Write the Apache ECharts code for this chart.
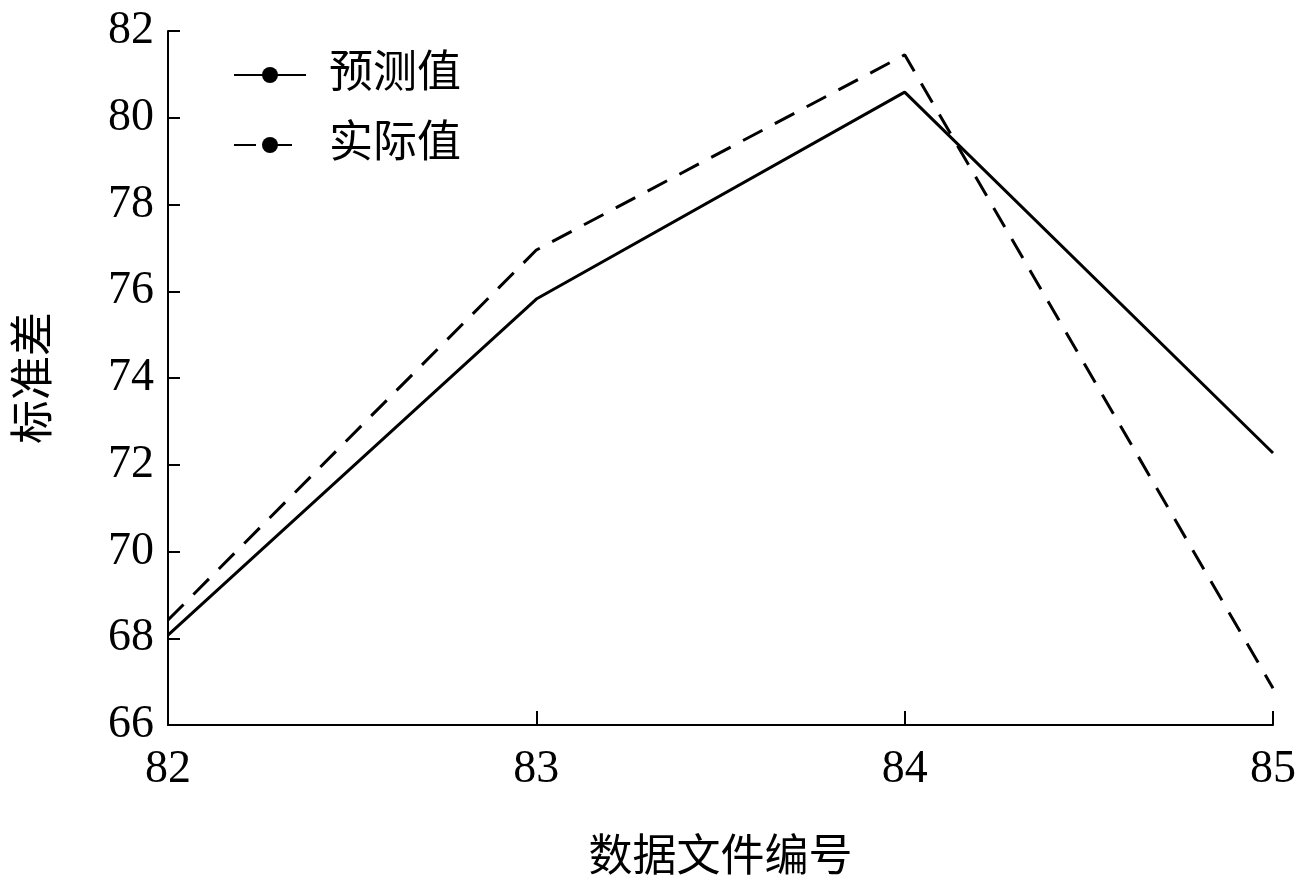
<!DOCTYPE html>
<html>
<head>
<meta charset="utf-8">
<script src="https://cdn.jsdelivr.net/npm/echarts@6/dist/echarts.min.js"></script>
<style>html,body{margin:0;padding:0;background:#fff}</style>
</head>
<body>
<div id="main" style="width:1304px;height:887px"></div>
<script>
// 数据
const fileIds = [82, 83, 84, 85];
const predicted = [68.07, 75.82, 80.59, 72.27];
const actual = [68.42, 76.95, 81.45, 66.85];
const yTicks = [66, 68, 70, 72, 74, 76, 78, 80, 82];

const font = '"Liberation Serif", "Noto Sans CJK SC", serif';
const chart = echarts.init(document.getElementById('main'));
const option = {
    animation: false,
    backgroundColor: '#fff',
    textStyle: { fontFamily: font, color: '#000' },
    grid: { left: 168, right: 31, top: 31, bottom: 162 },
    legend: {
        orient: 'vertical', left: 228, top: 48, itemWidth: 72, itemHeight: 20, itemGap: 26,
        textStyle: { fontSize: 44, fontFamily: font, color: '#000', padding: [0, 0, 0, 18] },
        data: ['预测值', '实际值']
    },
    xAxis: {
        type: 'value', min: fileIds[0], max: fileIds[fileIds.length - 1], interval: 1,
        name: '数据文件编号', nameLocation: 'middle', nameGap: 112,
        nameTextStyle: { fontSize: 44, fontFamily: font, color: '#000' },
        axisLine: { lineStyle: { color: '#000', width: 2 } },
        axisTick: { inside: true, length: 14, lineStyle: { color: '#000', width: 2 } },
        axisLabel: { fontSize: 46, color: '#000', margin: 22, fontFamily: font },
        splitLine: { show: false }
    },
    yAxis: {
        type: 'value', min: yTicks[0], max: yTicks[yTicks.length - 1], interval: 2,
        name: '标准差', nameLocation: 'middle', nameGap: 110,
        nameTextStyle: { fontSize: 44, fontFamily: font, color: '#000' },
        axisLine: { show: true, lineStyle: { color: '#000', width: 2 } },
        axisTick: { show: true, inside: true, length: 12, lineStyle: { color: '#000', width: 2 } },
        axisLabel: { fontSize: 46, color: '#000', margin: 14, fontFamily: font },
        splitLine: { show: false }
    },
    series: [
        {
            name: '预测值', type: 'line', symbol: 'none',
            data: fileIds.map((x, i) => [x, predicted[i]]),
            lineStyle: { color: '#000', width: 3 }, itemStyle: { color: '#000' }
        },
        {
            name: '实际值', type: 'line', symbol: 'none',
            data: fileIds.map((x, i) => [x, actual[i]]),
            lineStyle: { color: '#000', width: 3, type: [22, 14] }, itemStyle: { color: '#000' }
        }
    ]
};
chart.setOption(option);
</script>
</body>
</html>
